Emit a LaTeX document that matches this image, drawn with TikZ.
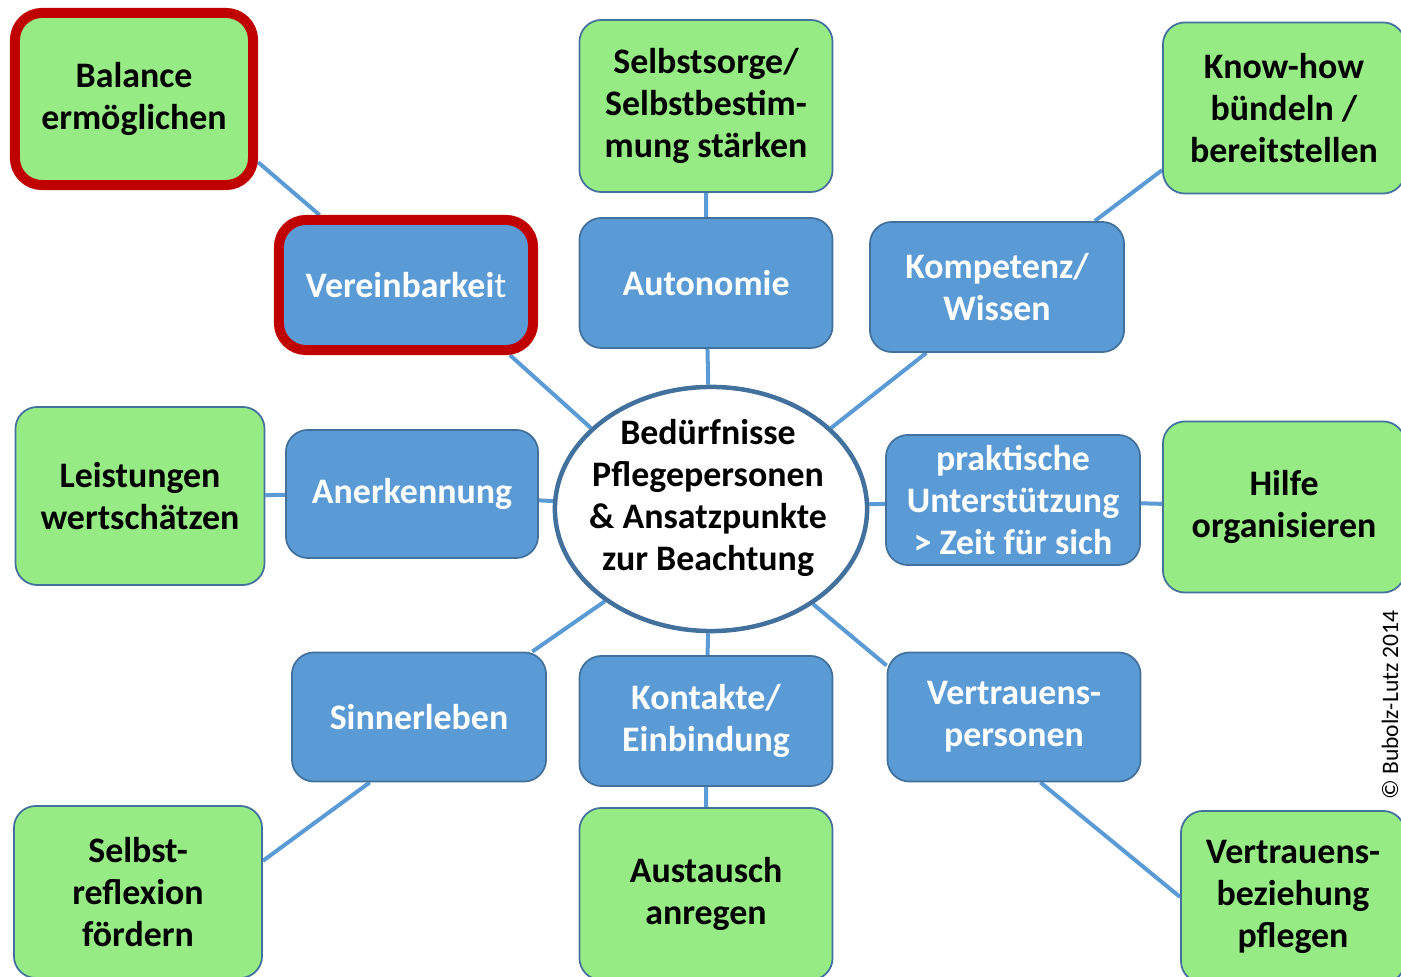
\documentclass[tikz,border=0pt]{standalone}
\usepackage{fontspec}
\setmainfont{Carlito}
\usetikzlibrary{shapes.geometric,backgrounds}
\definecolor{gruenfill}{HTML}{97EB85}
\definecolor{blaufill}{HTML}{5B9BD5}
\definecolor{rahmen}{HTML}{41719C}
\definecolor{markrot}{HTML}{C00000}

\begin{document}
\begin{tikzpicture}[x=0.01cm, y=-0.01cm]

    % Stile
    \tikzstyle{kasten}=[rectangle, rounded corners=0.22cm, draw=rahmen, line width=0.5pt, align=center, inner sep=0pt, font=\fontsize{10.2}{12}\selectfont\bfseries]
    \tikzstyle{gruen}=[kasten, fill=gruenfill, text=black, minimum width=2.53cm, minimum height=1.72cm]
    \tikzstyle{blau}=[kasten, fill=blaufill, text=white, minimum width=2.53cm, minimum height=1.30cm]
    \tikzstyle{markiert}=[draw=markrot, line width=0.1cm, rounded corners=0.27cm]
    \tikzstyle{hub}=[ellipse, draw=rahmen, line width=0.045cm, fill=white, minimum width=3.12cm, minimum height=2.44cm]
    \tikzstyle{linie}=[draw=blaufill, line width=0.04cm]

    \useasboundingbox (0,0) rectangle (1401,977);
    \clip (0,0) rectangle (1401,977);

    % Mitte
    \node[hub] (hub) at (711,509) {};
    \node[align=center, font=\fontsize{10.2}{12}\selectfont\bfseries] (hubtext) at (708,498) {Bedürfnisse\\Pflegepersonen\\\& Ansatzpunkte\\zur Beachtung};

    % blaue Kästen (innerer Ring)
    \node[blau, markiert, minimum width=2.54cm] (verein) at (406,285) {Vereinbarkei{\mdseries t}};
    \node[blau] (auto) at (706,283) {Autonomie};
    \node[blau, minimum width=2.54cm] (komp) at (997,287) {Kompetenz/\\Wissen};
    \node[blau, minimum width=2.52cm, minimum height=1.28cm] (aner) at (412,494) {Anerkennung};
    \node[blau, minimum width=2.54cm] (prakt) at (1013,500) {praktische\\Unterstützung\\> Zeit für sich};
    \node[blau, minimum width=2.54cm, minimum height=1.29cm] (sinn) at (419,717) {Sinnerleben};
    \node[blau] (kont) at (706,721) {Kontakte/\\Einbindung};
    \node[blau, minimum height=1.29cm] (vperson) at (1014,717) {Vertrauens-\\personen};

    % grüne Kästen (äußerer Ring)
    \node[gruen, markiert, minimum width=2.38cm] (bal) at (134,99) {Balance\\ermöglichen};
    \node[gruen] (selbst) at (706,106) {Selbstsorge/\\Selbstbestim-\\mung stärken};
    \node[gruen, minimum width=2.42cm, minimum height=1.71cm] (know) at (1284,108) {Know-how\\bündeln /\\bereitstellen};
    \node[gruen, minimum width=2.49cm, minimum height=1.78cm] (leist) at (140,496) {Leistungen\\wertschätzen};
    \node[gruen, minimum width=2.42cm, minimum height=1.71cm] (hilfe) at (1284,507) {Hilfe\\organisieren};
    \node[gruen, minimum width=2.48cm] (reflex) at (138,892) {Selbst-\\reflexion\\fördern};
    \node[gruen] (austausch) at (706,894) {Austausch\\anregen};
    \node[gruen, minimum width=2.24cm] (vbez) at (1293,897) {Vertrauens-\\beziehung\\pflegen};

    % Copyright
    \node[rotate=90, font=\fontsize{6.7}{8}\selectfont] (copy) at (1390,705) {© Bubolz-Lutz 2014};

    % Verbindungen
    \begin{scope}[on background layer]
        \draw[linie] (bal.-27) -- (verein.141);
        \draw[linie] (verein.-34) -- (hub.146);
        \draw[linie] (selbst) -- (auto) -- (hub) -- (kont) -- (austausch);
        \draw[linie] (know.207) -- (komp.34);
        \draw[linie] (komp.223) -- (hub.34);
        \draw[linie] (leist) -- (aner) -- (hub) -- (prakt) -- (hilfe);
        \draw[linie] (sinn.30) -- (hub.221);
        \draw[linie] (sinn.233) -- (reflex.14);
        \draw[linie] (vperson.158) -- (hub.-43);
        \draw[linie] (vperson.-68) -- (vbez.180);
    \end{scope}

\end{tikzpicture}
\end{document}
